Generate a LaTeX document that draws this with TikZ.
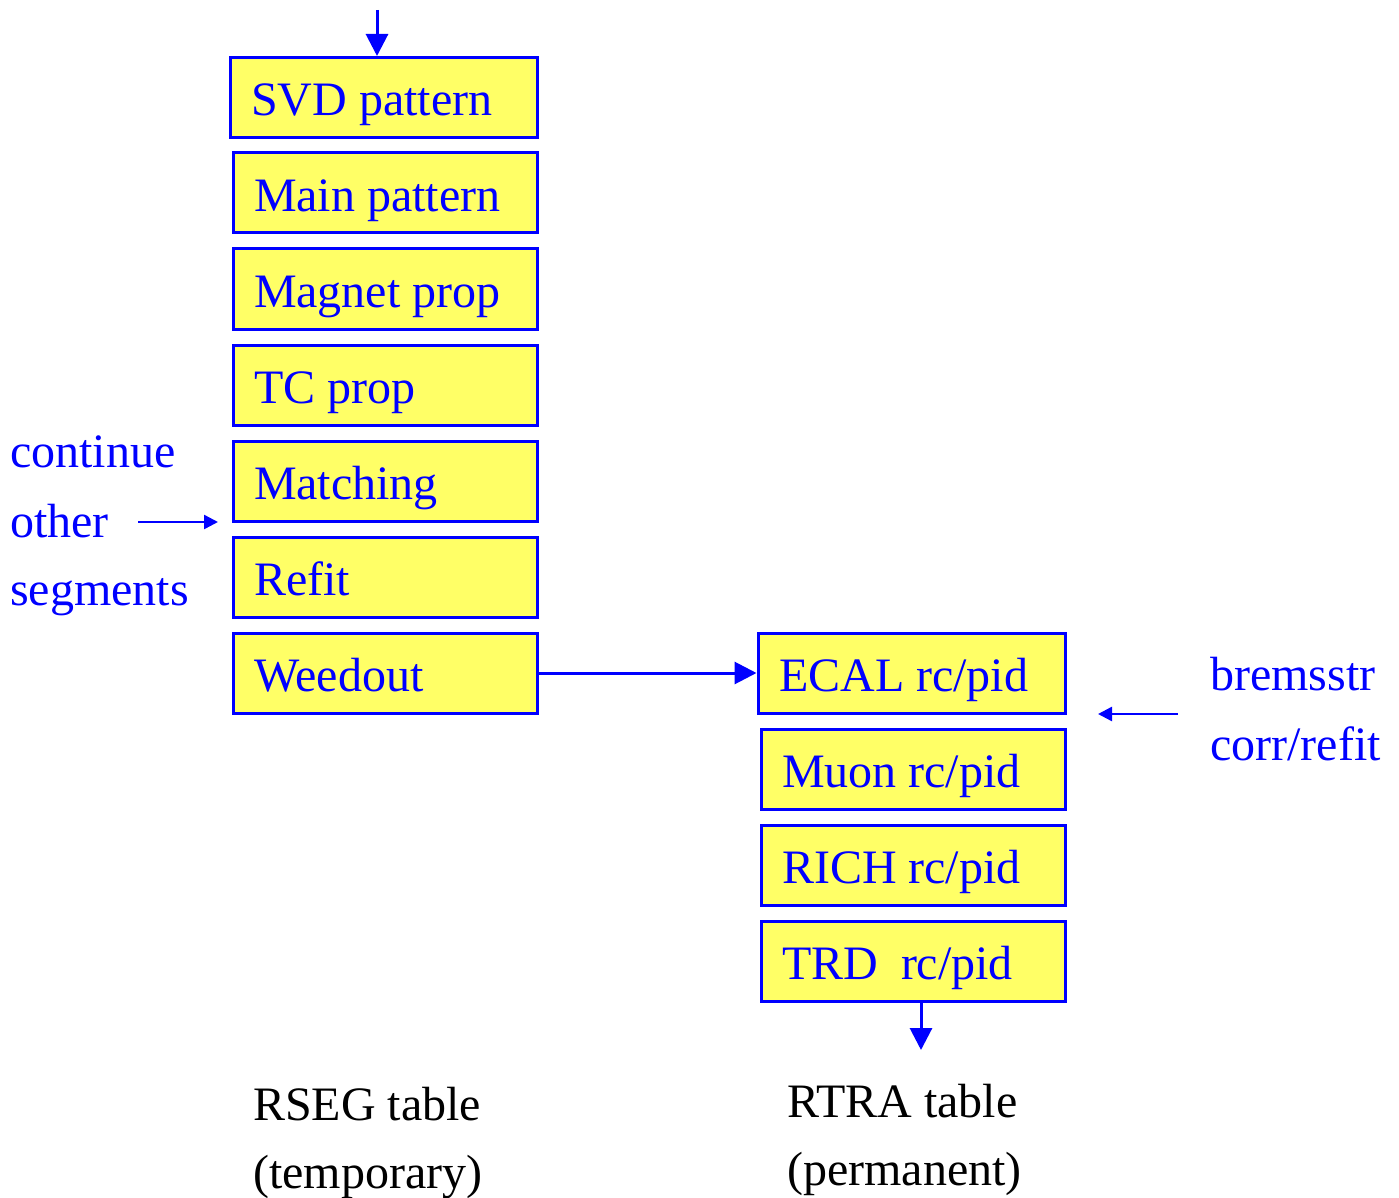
\documentclass[tikz,border=0pt]{standalone}
\usepackage{fontspec}
\setmainfont{Liberation Serif}
\usetikzlibrary{arrows.meta}
\definecolor{boxfill}{RGB}{255,255,102}
\definecolor{ink}{RGB}{0,0,255}
\tikzset{
  blk/.style={draw=ink, line width=3pt, fill=boxfill, text=ink,
    minimum width=#1, minimum height=80pt, inner xsep=21pt, inner ysep=0pt,
    text width=#1-42pt, align=flush left, text height=47pt, text depth=10pt,
    font=\fontsize{48}{58}\selectfont},
  blk/.default=304pt,
  lbl/.style={anchor=base west, inner sep=0pt, font=\fontsize{48}{58}\selectfont},
  flow/.style={draw=ink, line width=3pt, -{Triangle[length=22pt,width=22pt]}},
  side/.style={draw=ink, line width=2.5pt, -{Triangle[length=14pt,width=14pt]}}
}
\begin{document}
\begin{tikzpicture}[x=1pt,y=-1pt]
\useasboundingbox (0,0) rectangle (1399,1198);

% left column: segment processing steps
\node[blk=307pt] (svd)   at (383.5, 97.5) {SVD pattern};
\node[blk]       (main)  at (385, 193) {Main pattern};
\node[blk]       (mag)   at (385, 289) {Magnet prop};
\node[blk]       (tc)    at (385, 385) {TC prop};
\node[blk]       (match) at (385, 481) {Matching};
\node[blk]       (refit) at (385, 577) {Refit};
\node[blk]       (weed)  at (385, 673) {Weedout};

% right column: particle identification steps
\node[blk=307pt] (ecal)  at (911.5, 673) {ECAL rc/pid};
\node[blk]       (muon)  at (913, 769) {Muon rc/pid};
\node[blk]       (rich)  at (913, 865) {RICH rc/pid};
\node[blk]       (trd)   at (913, 961) {TRD\hspace{23pt}rc/pid};

% side notes
\node[lbl, text=ink] (cont1) at (10, 467) {continue};
\node[lbl, text=ink] (cont2) at (10, 537) {other};
\node[lbl, text=ink] (cont3) at (10, 605) {segments};
\node[lbl, text=ink] (brem1) at (1210, 690) {bremsstr};
\node[lbl, text=ink] (brem2) at (1210, 760) {corr/refit};

% output tables
\node[lbl] (rseg1) at (253, 1120) {RSEG table};
\node[lbl] (rseg2) at (253, 1188) {(temporary)};
\node[lbl] (rtra1) at (787, 1117) {RTRA table};
\node[lbl] (rtra2) at (787, 1185) {(permanent)};

% connectors
\coordinate (topin) at (377, 10);
\draw[flow] (topin) -- (topin |- svd.north);

\coordinate (contA) at (138, 522);
\coordinate (contB) at (218, 522);
\draw[side] (contA) -- (contB);

\draw[flow] (weed.east) -- (ecal.west);

\coordinate (bremA) at (1178, 714);
\coordinate (bremB) at (1098, 714);
\draw[side] (bremA) -- (bremB);

\coordinate (botout) at (921, 1050);
\draw[flow] (botout |- trd.south) -- (botout);
\end{tikzpicture}
\end{document}
